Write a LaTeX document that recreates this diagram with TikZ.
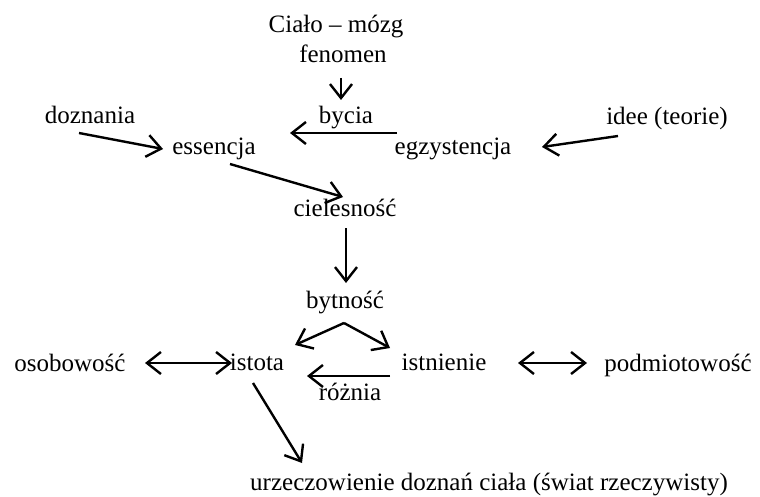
\documentclass[tikz,border=0pt]{standalone}
\usepackage{fontspec}
\setmainfont{Liberation Serif}
\usetikzlibrary{arrows.meta,calc}
\begin{document}
\begin{tikzpicture}[x=1pt,y=-1pt,
  lbl/.style={anchor=base,inner sep=0pt,font=\fontsize{25}{29}\selectfont},
  tip/.style={Straight Barb[length=14pt,width=22pt,line width=2.4pt]},
  arr/.style={line width=2.4pt,-{Straight Barb[length=14pt,width=22pt,line width=2.4pt]}},
  darr/.style={line width=2.4pt,{Straight Barb[length=14pt,width=22pt,line width=2.4pt]}-{Straight Barb[length=14pt,width=22pt,line width=2.4pt]}}]
\useasboundingbox (0,0) rectangle (760,497);
\node[lbl] (cialo) at (336,33) {Ciało – mózg};
\node[lbl] (fenomen) at (343,63) {fenomen};
\node[lbl] (bycia) at (346,124) {bycia};
\node[lbl] (egz) at (453,155) {egzystencja};
\node[lbl] (ess) at (214,155) {essencja};
\node[lbl] (dozn) at (90,124) {doznania};
\node[lbl] (idee) at (667,125) {idee (teorie)};
\node[lbl] (ciel) at (345,217) {cielesność};
\node[lbl] (bytn) at (345,308) {bytność};
\node[lbl] (istota) at (257,370) {istota};
\node[lbl] (istn) at (444,370) {istnienie};
\node[lbl] (rozn) at (350,400) {różnia};
\node[lbl] (osob) at (70,371) {osobowość};
\node[lbl] (podm) at (678,371) {podmiotowość};
\node[lbl] (urz) at (489,490) {urzeczowienie doznań ciała (świat rzeczywisty)};
\draw[arr] ($(fenomen.base)+(-2,15)$) -- ($(bycia.base)+(-5,-24)$);
\draw[arr] ($(egz.base)+(-56,-22)$) -- ($(ess.base)+(76,-22)$);
\draw[arr] ($(dozn.base)+(-11,9)$) -- ($(ess.base)+(-51,-6)$);
\draw[arr] ($(idee.base)+(-49,11)$) -- ($(egz.base)+(89,-8)$);
\draw[arr] ($(ess.base)+(16,9)$) -- ($(ciel.base)+(-2,-20)$);
\draw[arr] ($(ciel.base)+(1,11)$) -- ($(bytn.base)+(1,-25)$);
\coordinate (apex) at ($(bytn.base)+(-1,15)$);
\draw[arr] (apex) -- ($(istota.base)+(38,-25)$);
\draw[arr] (apex) -- ($(istn.base)+(-54,-22)$);
\draw[arr] ($(istn.base)+(-54,6)$) -- ($(istota.base)+(50,6)$);
\draw[darr] ($(osob.base)+(75,-8)$) -- ($(istota.base)+(-25,-7)$);
\draw[darr] ($(istn.base)+(74,-7)$) -- ($(podm.base)+(-91,-8)$);
\draw[arr] ($(istota.base)+(-4,13)$) -- ($(urz.base)+(-187,-27)$);
\end{tikzpicture}
\end{document}
